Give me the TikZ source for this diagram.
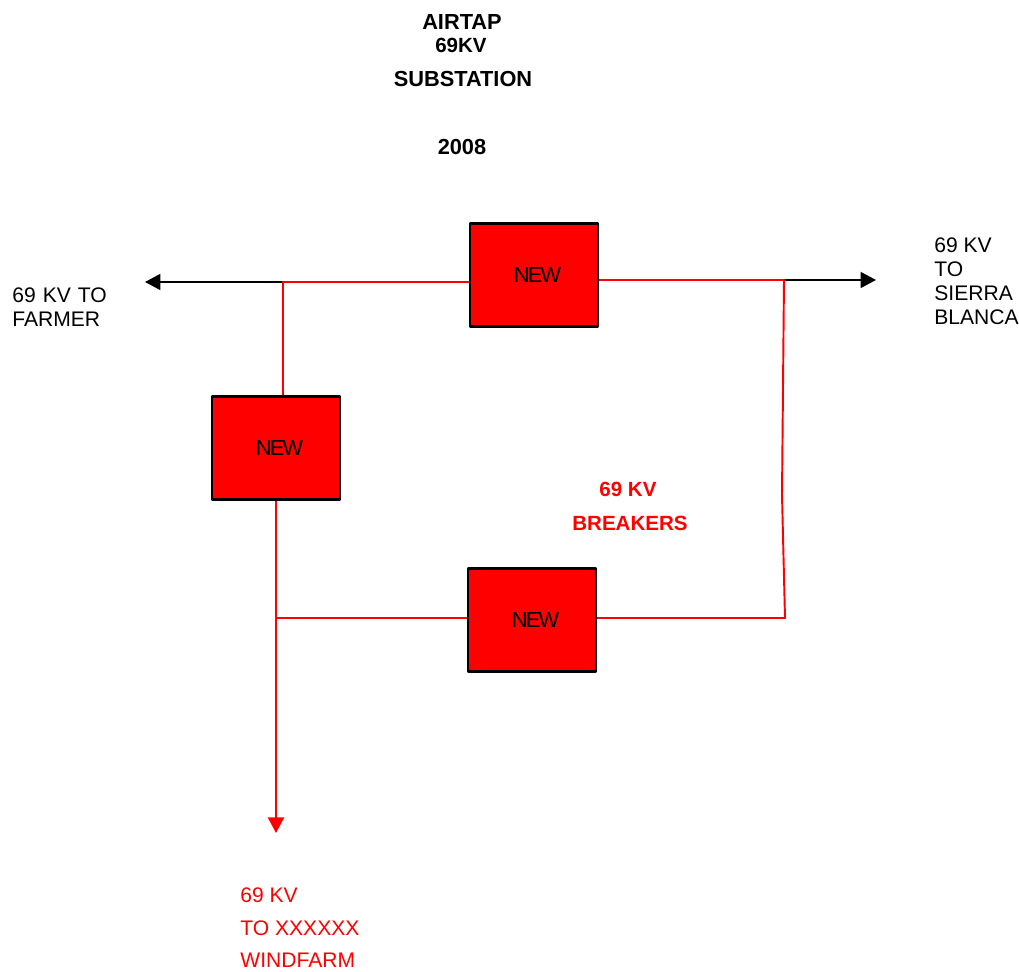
\documentclass[tikz,border=0pt]{standalone}
\usepackage{fontspec}
\setmainfont{Liberation Sans}
\newfontfamily\tightfont[LetterSpace=-8]{Liberation Sans}
\usetikzlibrary{arrows.meta}
\tikzset{
	breaker/.style={draw=black, fill=red, line width=1.2pt, inner sep=0pt, minimum width=2.56cm, minimum height=2.06cm, font=\fontsize{12.4pt}{14pt}\tightfont},
	tag/.style={font=\fontsize{12pt}{13.7pt}\selectfont, inner sep=0pt, align=left, anchor=west},
	head/.style={font=\fontsize{12.4pt}{14pt}\selectfont\bfseries, inner sep=0pt},
	subhead/.style={head, font=\fontsize{11.7pt}{14pt}\selectfont\bfseries},
	feeder/.style={line width=1.1pt, -{Triangle[length=0.31cm,width=0.32cm]}},
	bus/.style={red, line width=1.1pt}
}
\begin{document}
\begin{tikzpicture}[x=0.02cm, y=-0.02cm, line join=round]
	\useasboundingbox (0,0) rectangle (1019,972);
	\path
	(283,282) coordinate (J_1)
	(784,280) coordinate (J_2)
	(782,495) coordinate (K)
	(785,618) coordinate (J_3)
	(275,618) coordinate (J_4)
	(145,282) coordinate (L)
	(876,280) coordinate (R)
	(276,833) coordinate (D)
	;
	\node[head] (title1) at (462,22) {AIRTAP};
	\node[subhead] (title2) at (461,45) {69KV};
	\node[head] (title3) at (463,79) {SUBSTATION};
	\node[head] (title4) at (462,147) {2008};
	\node[breaker] (new1) at (534,275) {\kern4pt NEW};
	\node[breaker] (new2) at (276,448) {\kern4pt NEW};
	\node[breaker] (new3) at (532,620) {\kern4pt NEW};
	\draw[feeder, black] (J_1) -- (L);
	\draw[feeder, black] (J_2) -- (R);
	\draw[bus] (new1.west |- J_1) -- (J_1) -- (J_1 |- new2.north);
	\draw[bus] (new1.east |- J_2) -- (J_2) -- (K) -- (J_3) -- (new3.east |- J_3);
	\draw[bus] (new3.west |- J_4) -- (J_4);
	\draw[feeder, red] (new2.south) -- (D);
	\node[tag, text width=2.2cm] (farmer) at (12,307) {69 KV TO\\FARMER};
	\node[tag] (sierra) at (934,281) {69 KV\\TO\\SIERRA\\BLANCA};
	\node[subhead, red] (kv) at (628,489) {69 KV};
	\node[subhead, red] (breakers) at (630,523) {BREAKERS};
	\node[tag, red] (wind1) at (240,895) {69 KV};
	\node[tag, red] (wind2) at (240,928) {TO XXXXXX};
	\node[tag, red] (wind3) at (240,960) {WINDFARM};
\end{tikzpicture}
\end{document}
